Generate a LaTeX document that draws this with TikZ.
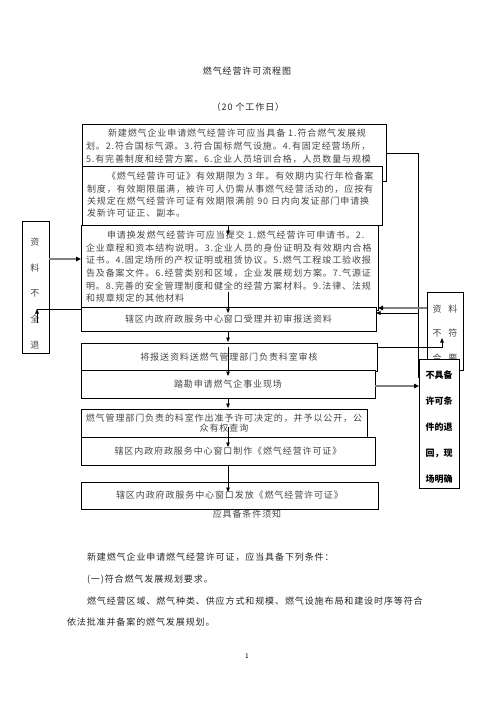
\documentclass[tikz,border=0pt]{standalone}
\usepackage{fontspec}
\newfontfamily\cjk[LetterSpace=10]{Noto Sans CJK SC}
\newfontfamily\cjkp{Noto Sans CJK SC}
\usetikzlibrary{arrows.meta}
\begin{document}
\begin{tikzpicture}[x=1pt,y=-1pt,
  box/.style={draw=black, line width=0.8pt, fill=white, inner sep=0pt, outer sep=0pt, anchor=north west,
    font=\cjk\fontsize{9}{10}\selectfont, text=black!72},
  txt/.style={inner sep=0pt, outer sep=0pt, align=left, text=black!72},
  conn/.style={line width=0.7pt, draw=black},
  arr/.style={conn, -{Triangle[length=4.5pt,width=3.6pt]}},
  garr/.style={line width=1.8pt, draw=black!50, -{Triangle[length=5pt,width=4.5pt,color=black]}}
]
\useasboundingbox[fill=white] (0,0) rectangle (496,702);

% titles
\node[txt, font=\cjk\fontsize{9}{10}\selectfont, text=black!85] (title) at (247,71) {燃气经营许可流程图};
\node[txt, font=\cjk\fontsize{9}{10}\selectfont, text=black!85] (days) at (248,107) {（20 个工作日）};

% box 1
\node[box, minimum width=304pt, minimum height=57pt] (b1) at (82,124) {};
\node[txt, anchor=north west, font=\cjk\fontsize{9}{13}\selectfont] (t1) at (86,129)
 {\hspace*{22pt}新建燃气企业申请燃气经营许可应当具备 1.符合燃气发展规\\
  划。2.符合国标气源。3.符合国标燃气设施。4.有固定经营场所，\\
  5.有完善制度和经营方案。6.企业人员培训合格，人员数量与规模};

% box 2
\node[box, minimum width=300pt, minimum height=59pt] (b2) at (82,166) {};
\node[txt, anchor=north west, font=\cjk\fontsize{9}{12.4}\selectfont] (t2) at (87,172)
 {\hspace*{20pt}《燃气经营许可证》有效期限为 3 年。有效期内实行年检备案\\
  制度，有效期限届满，被许可人仍需从事燃气经营活动的，应按有\\
  关规定在燃气经营许可证有效期限满前 90 日内向发证部门申请换\\
  发新许可证正、副本。};

% box 3
\node[box, minimum width=297pt, minimum height=85pt] (b3) at (81,225) {};
\node[txt, anchor=north west, font=\cjk\fontsize{9}{12.6}\selectfont] (t3) at (86,231)
 {\hspace*{21pt}申请换发燃气经营许可应当提交 1.燃气经营许可申请书。2.\\
  企业章程和资本结构说明。3.企业人员的身份证明及有效期内合格\\
  证书。4.固定场所的产权证明或租赁协议。5.燃气工程竣工验收报\\
  告及备案文件。6.经营类别和区域，企业发展规划方案。7.气源证\\
  明。8.完善的安全管理制度和健全的经营方案材料。9.法律、法规\\
  和规章规定的其他材料};

% single line boxes
\node[box, minimum width=295pt, minimum height=24pt] (b4) at (81,307) {辖区内政府政服务中心窗口受理并初审报送资料};
\node[box, minimum width=296pt, minimum height=28pt] (b5) at (81,343) {将报送资料送燃气管理部门负责科室审核};
\node[box, minimum width=294pt, minimum height=28pt] (b6) at (81,370) {踏勘申请燃气企事业现场};
\node[box, minimum width=286pt, minimum height=28pt, align=center, font=\cjk\fontsize{9}{9.3}\selectfont] (b7) at (81,409)
 {燃气管理部门负责的科室作出准予许可决定的，并予以公开，公\\众有权查询};
\node[box, minimum width=294pt, minimum height=28pt] (b8) at (81,437) {辖区内政府政服务中心窗口制作《燃气经营许可证》};

\node[txt, font=\cjk\fontsize{9}{10}\selectfont] (note) at (247,514) {应具备条件须知};
\node[box, minimum width=297pt, minimum height=27pt] (b9) at (81,482) {辖区内政府政服务中心窗口发放《燃气经营许可证》};

% side boxes
\node[box, minimum width=27pt, minimum height=132pt] (bl) at (22,221) {};
\node[txt, align=center, font=\cjkp\fontsize{9}{25.7}\selectfont] (tl) at (35,293.5) {资\\料\\不\\全\\退};

\node[box, minimum width=36pt, minimum height=78pt] (br) at (427,292) {};
\node[txt, align=center, font=\cjkp\fontsize{9}{24.5}\selectfont] (tr) at (445,333.5) {资\hspace{7pt}料\\不\hspace{7pt}符\\合\hspace{7pt}要};

\node[box, minimum width=40pt, minimum height=129pt] (bn) at (419,359) {};
\node[txt, align=center, font=\cjkp\bfseries\fontsize{9}{26}\selectfont, text=black] (tn) at (439,427)
 {不具备\\许可条\\件的退\\回，现\\场明确};

% coordinates
\coordinate (v1) at (418,153);
\coordinate (v2) at (418,378);
\coordinate (v3) at (418,313);
\coordinate (g1) at (0,308);
\coordinate (g2) at (0,386);
\coordinate (g3) at (0,259);
\coordinate (p1) at (228,235);
\coordinate (p2s) at (228,292);
\coordinate (p2) at (228,313);
\coordinate (p3) at (228,342);
\coordinate (p4s) at (228,347);
\coordinate (p4) at (228,376);
\coordinate (p5) at (228,408);
\coordinate (p6s) at (228,427);
\coordinate (p6) at (228,447);
\coordinate (p7) at (228,492);
\coordinate (q1) at (442,347);
\coordinate (q2) at (442,338);
\coordinate (l1) at (37,309);
\coordinate (l2) at (37,323);

% connectors
\draw[conn] (v1 -| b1.east) -- (v1) -- (v2);
\draw[arr] (v3) -- (v3 -| b4.east);
\draw[garr] (g1 -| br.west) -- (g1 -| b3.east);
\draw[arr] (b2.south -| p1) -- (p1);
\draw[arr] (p2s) -- (p2);
\draw[arr] (b4.south -| p3) -- (p3);
\draw[arr] (p4s) -- (p4);
\draw[arr] (b6.south -| p5) -- (p5);
\draw[arr] (p6s) -- (p6);
\draw[arr] (b8.south -| p7) -- (p7);
\draw[arr] (q1 -| b5.east) -- (q1) -- (q2);
\draw[garr] (g2 -| b6.east) -- (g2 -| bn.west);
\draw[garr] (g3 -| bl.east) -- (g3 -| b3.west);
\draw[conn] (l1 -| b4.west) -- (l1);
\draw[arr] (l2) -- (l1);

% bottom text
\node[txt, anchor=north west, font=\cjk\fontsize{9}{21.3}\selectfont, text=black!85] (para) at (67,552.5)
 {\hspace*{20pt}新建燃气企业申请燃气经营许可证，应当具备下列条件：\\[1.5pt]
  \hspace*{20pt}(一)符合燃气发展规划要求。\\
  \hspace*{20pt}燃气经营区域、燃气种类、供应方式和规模、燃气设施布局和建设时序等符合\\
  依法批准并备案的燃气发展规划。};
\node[txt, font=\cjkp\fontsize{6.5}{7}\selectfont, text=black] (pg) at (247,656) {1};
\end{tikzpicture}
\end{document}
